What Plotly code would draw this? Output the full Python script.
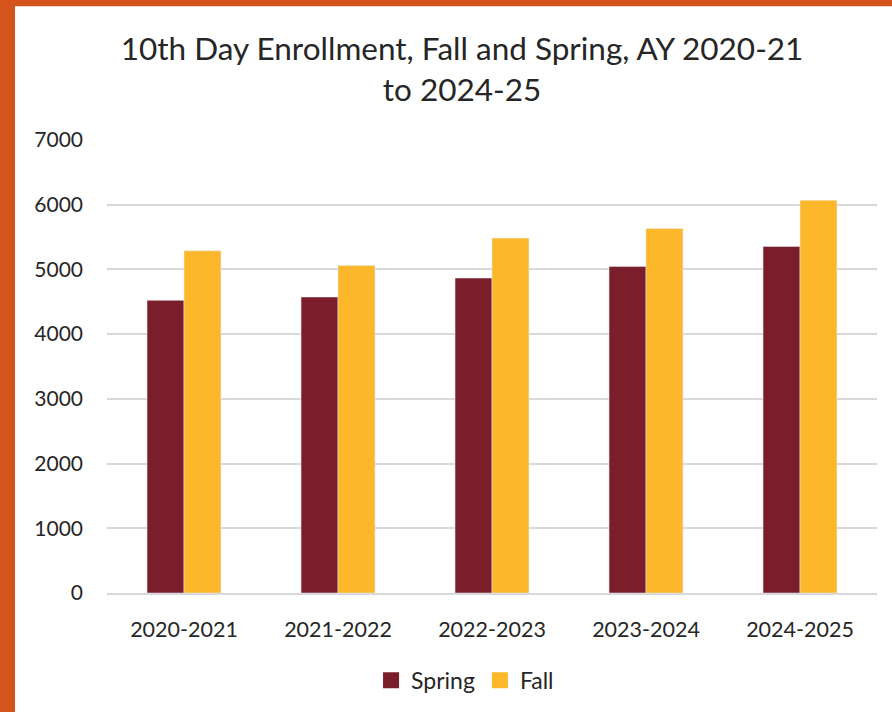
import plotly.graph_objects as go

years = ["2020-2021", "2021-2022", "2022-2023", "2023-2024", "2024-2025"]
spring = [4522, 4574, 4867, 5047, 5355]
fall = [5288, 5062, 5484, 5633, 6070]
y_ticks = [0, 1000, 2000, 3000, 4000, 5000, 6000, 7000]

FONT = "Lato, 'Open Sans', sans-serif"
SPRING_C = "#7B1E2B"
FALL_C = "#FDB72A"

fig = go.Figure()
fig.add_trace(go.Bar(name="Spring", x=years, y=spring, marker_color=SPRING_C, showlegend=False))
fig.add_trace(go.Bar(name="Fall", x=years, y=fall, marker_color=FALL_C, showlegend=False))
# legend entries with larger square swatches
fig.add_trace(go.Scatter(name="Spring", x=[years[0]], y=[None], mode="markers",
                         marker=dict(symbol="square", size=16, color=SPRING_C)))
fig.add_trace(go.Scatter(name="Fall", x=[years[0]], y=[None], mode="markers",
                         marker=dict(symbol="square", size=16, color=FALL_C)))

fig.update_layout(
    width=892, height=712,
    margin=dict(l=107, r=15, t=140, b=118),
    paper_bgcolor="#D4541C",
    plot_bgcolor="rgba(0,0,0,0)",
    barmode="group",
    bargap=0.52,
    bargroupgap=0,
    font=dict(family=FONT, color="#404040"),
    title=dict(
        text="10th Day Enrollment, Fall and Spring, AY 2020-21<br>to 2024-25",
        x=0.518, xanchor="center", xref="container",
        y=1 - 60 / 712, yanchor="top", yref="container",
        font=dict(family=FONT, size=31.5, color="#262626"),
    ),
    legend=dict(
        orientation="h", x=0.465, xanchor="center",
        y=-0.19, yanchor="middle", font=dict(size=23, color="#262626"),
        bgcolor="rgba(0,0,0,0)", itemwidth=30,
    ),
    shapes=[dict(
        type="rect", xref="paper", yref="paper", layer="below",
        x0=(15 - 107) / 770, x1=(892 - 107) / 770 + 0.01,
        y0=(594 - 712) / 454 - 0.01, y1=(594 - 6) / 454,
        fillcolor="white", line=dict(width=0),
    )],
)
fig.update_yaxes(
    range=[0, 7000], tickvals=y_ticks, showgrid=True, gridcolor="#D9D9D9", gridwidth=1.5,
    zeroline=False, showline=False, ticks="", ticklabelstandoff=23,
    tickfont=dict(size=21, color="#262626"),
)
fig.update_xaxes(
    showline=True, linecolor="#D9D9D9", linewidth=1.5, ticks="", ticklabelstandoff=16,
    tickfont=dict(size=21.5, color="#262626"),
)

fig.write_html("out.html", config={"displayModeBar": False},
               post_script="document.body.style.margin='0';document.body.style.padding='0';")
